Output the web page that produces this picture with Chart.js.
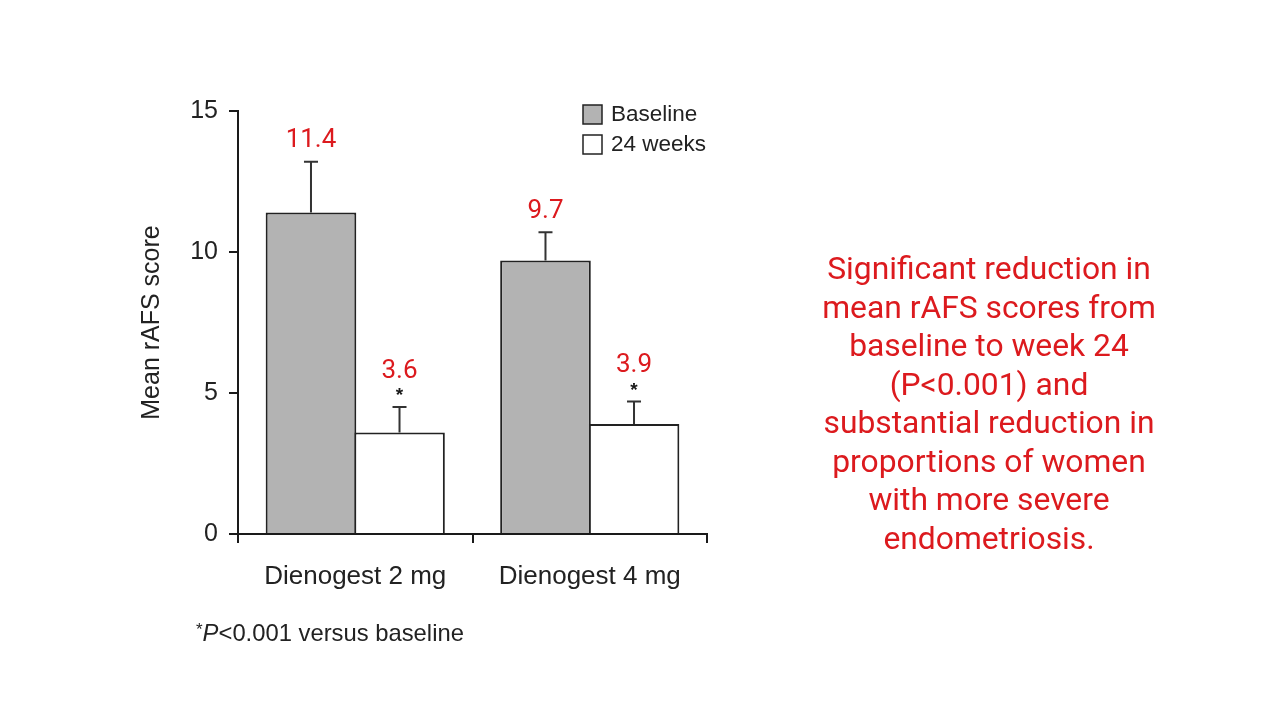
<!DOCTYPE html>
<html>
<head>
<meta charset="utf-8">
<script src="https://cdn.jsdelivr.net/npm/chart.js@4/dist/chart.umd.min.js"></script>
<style>
  html, body { margin: 0; padding: 0; background: #fff; }
  #wrap { position: relative; width: 1280px; height: 720px; }
  canvas { position: absolute; left: 0; top: 0; }
  #note {
    position: absolute; left: 780px; top: 249px; width: 418px;
    text-align: center; color: #dc1a1e;
    font-family: Roboto, "Noto Sans", sans-serif; font-size: 31.8px; line-height: 38.5px;
  }
</style>
</head>
<body>
<div id="wrap">
  <canvas id="c" width="1280" height="720"></canvas>
  <div id="note">Significant reduction in<br>mean rAFS scores from<br>baseline to week 24<br>(P&lt;0.001) and<br>substantial reduction in<br>proportions of women<br>with more severe<br>endometriosis.</div>
</div>
<script>
const categories = ['Dienogest 2 mg', 'Dienogest 4 mg'];
const seriesNames = ['Baseline', '24 weeks'];
const baselineValues = [11.4, 9.7];
const week24Values = [3.6, 3.9];
const baselineErrorTop = [13.2, 10.7];
const week24ErrorTop = [4.5, 4.7];
const week24Significant = [true, true];
const yTicks = [0, 5, 10, 15];
const yTitle = 'Mean rAFS score';
const footnote = { star: '*', italic: 'P', rest: '<0.001 versus baseline' };

const AXIS = '#1a1a1a';
const SANS = '"Liberation Sans", Arial, sans-serif';
const RED = '#dc1a1e';

const errorPlugin = {
  id: 'errorBarsAndLabels',
  afterDatasetsDraw(chart) {
    const ctx = chart.ctx;
    const y = chart.scales.y;
    chart.data.datasets.forEach((ds, di) => {
      const meta = chart.getDatasetMeta(di);
      meta.data.forEach((el, i) => {
        const top = y.getPixelForValue(ds.errorTop[i]);
        ctx.save();
        ctx.strokeStyle = '#333';
        ctx.lineWidth = 2;
        ctx.beginPath();
        ctx.moveTo(el.x, el.y);
        ctx.lineTo(el.x, top);
        ctx.moveTo(el.x - 7, top);
        ctx.lineTo(el.x + 7, top);
        ctx.stroke();
        ctx.textAlign = 'center';
        ctx.textBaseline = 'middle';
        let labelY = top - 21;
        if (ds.significant && ds.significant[i]) {
          ctx.fillStyle = '#1a1a1a';
          ctx.font = 'bold 19px ' + SANS;
          ctx.fillText('*', el.x, top - 11);
          labelY = top - 36;
        }
        ctx.fillStyle = RED;
        ctx.font = '26px Roboto, sans-serif';
        ctx.fillText(String(ds.data[i]), el.x, labelY);
        ctx.restore();
      });
    });
  },
  afterDraw(chart) {
    const ctx = chart.ctx;
    const area = chart.chartArea;
    // legend
    ctx.save();
    ctx.font = '22.5px ' + SANS;
    ctx.textBaseline = 'middle';
    ctx.textAlign = 'left';
    chart.data.datasets.forEach((ds, di) => {
      const bx = area.right - 124;
      const cy = area.top + 3 + di * 30;
      ctx.fillStyle = ds.backgroundColor;
      ctx.fillRect(bx, cy - 9, 19, 19);
      ctx.strokeStyle = '#222';
      ctx.lineWidth = 1.5;
      ctx.strokeRect(bx, cy - 9, 19, 19);
      ctx.fillStyle = '#222';
      ctx.fillText(ds.label, bx + 28, cy + 1);
    });
    // footnote
    let fx = 196;
    const fy = 634;
    ctx.fillStyle = '#222';
    ctx.font = '17px ' + SANS;
    ctx.fillText(footnote.star, fx, fy - 4);
    fx += ctx.measureText(footnote.star).width;
    ctx.font = 'italic 23.8px ' + SANS;
    ctx.fillText(footnote.italic, fx, fy);
    fx += ctx.measureText(footnote.italic).width;
    ctx.font = '23.8px ' + SANS;
    ctx.fillText(footnote.rest, fx, fy);
    ctx.restore();
  }
};

new Chart(document.getElementById('c'), {
  type: 'bar',
  data: {
    labels: categories,
    datasets: [
      { label: seriesNames[0], data: baselineValues, errorTop: baselineErrorTop,
        backgroundColor: '#b3b3b3', borderColor: '#222', borderWidth: 2, borderSkipped: 'bottom' },
      { label: seriesNames[1], data: week24Values, errorTop: week24ErrorTop, significant: week24Significant,
        backgroundColor: '#ffffff', borderColor: '#222', borderWidth: 2, borderSkipped: 'bottom' }
    ]
  },
  options: {
    responsive: false,
    animation: false,
    devicePixelRatio: 1,
    layout: { padding: { left: 130, right: 573, top: 111, bottom: 100 } },
    plugins: { legend: { display: false }, tooltip: { enabled: false } },
    datasets: { bar: { barPercentage: 1.024, categoryPercentage: 0.755 } },
    scales: {
      x: {
        offset: true,
        grid: { offset: true, drawOnChartArea: false, drawTicks: true, tickLength: 9, color: AXIS, lineWidth: 2 },
        border: { display: true, color: AXIS, width: 2 },
        ticks: { color: '#222', font: { family: SANS, size: 26 }, padding: 18 },
        afterFit(s) { s.height = 86; }
      },
      y: {
        min: 0, max: 15,
        afterBuildTicks(s) { s.ticks = yTicks.map(v => ({ value: v })); },
        grid: { drawOnChartArea: false, drawTicks: true, tickLength: 9, color: AXIS, lineWidth: 2 },
        border: { display: true, color: AXIS, width: 2 },
        ticks: { color: '#222', font: { family: SANS, size: 25 }, padding: 11 },
        title: { display: true, text: yTitle, color: '#222', font: { family: SANS, size: 25 }, padding: { top: 7, bottom: 0 } },
        afterFit(s) { s.width = 108; }
      }
    }
  },
  plugins: [errorPlugin]
});
</script>
</body>
</html>
